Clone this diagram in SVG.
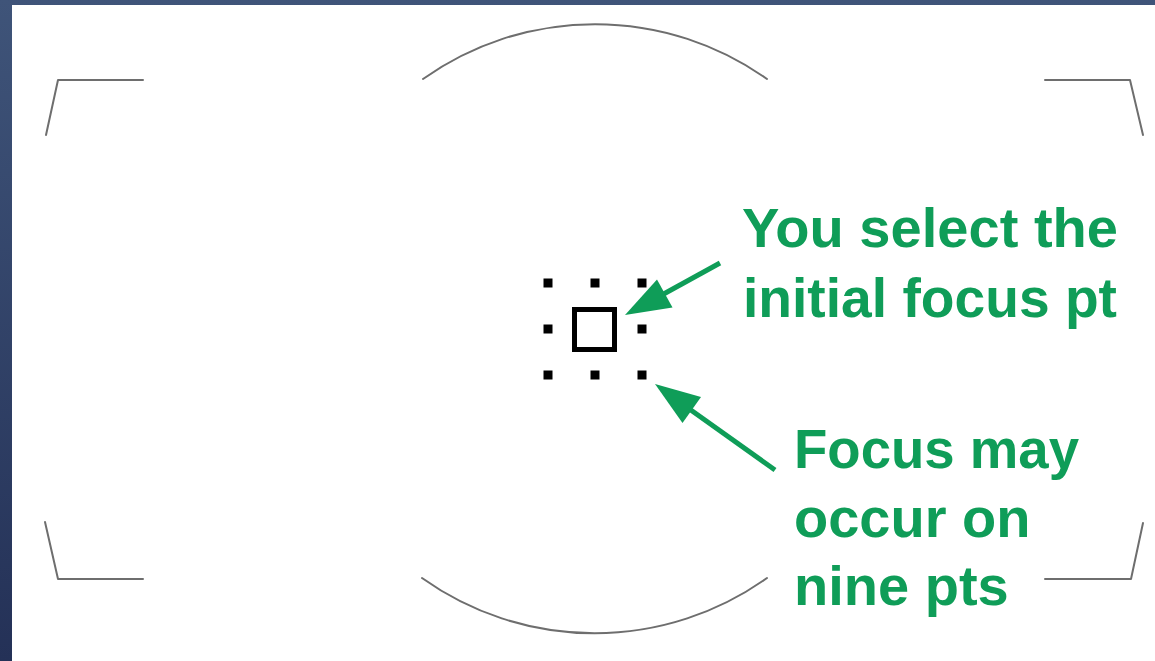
<svg xmlns="http://www.w3.org/2000/svg" width="1155" height="661" viewBox="0 0 1155 661">
  <defs>
    <linearGradient id="bg" x1="0" y1="0" x2="0" y2="1">
      <stop offset="0" stop-color="#3f5479"/>
      <stop offset="1" stop-color="#243157"/>
    </linearGradient>
    <style>
      .frame { fill: none; stroke: #6e6e6e; stroke-width: 2; stroke-linecap: round; stroke-linejoin: round; }
      .dot { fill: #000; }
      .label { font-family: "Liberation Sans", Arial, sans-serif; font-weight: bold; font-size: 56px; fill: #0f9d58; }
      .shaft { stroke: #0f9d58; stroke-width: 5; fill: none; }
      .head { fill: #0f9d58; }
    </style>
  </defs>
  <rect x="0" y="0" width="1155" height="661" fill="url(#bg)"/>
  <rect x="12" y="5" width="1143" height="656" fill="#ffffff"/>

  <g id="viewfinder-frame">
    <path class="frame" d="M143 80 H58 L46 135"/>
    <path class="frame" d="M1045 80 H1130 L1143 135"/>
    <path class="frame" d="M45 522 L58 579 H143"/>
    <path class="frame" d="M1045 579 H1131 L1143 523"/>
    <path class="frame" d="M423 79 A297 297 0 0 1 767 79"/>
    <path class="frame" d="M422 578 A297 297 0 0 0 767 578"/>
  </g>

  <g id="focus-points">
    <rect class="dot" x="543.5" y="278.5" width="9" height="9"/>
    <rect class="dot" x="590.5" y="278.5" width="9" height="9"/>
    <rect class="dot" x="637.5" y="278.5" width="9" height="9"/>
    <rect class="dot" x="543.5" y="324.5" width="9" height="9"/>
    <rect class="dot" x="637.5" y="324.5" width="9" height="9"/>
    <rect class="dot" x="543.5" y="370.5" width="9" height="9"/>
    <rect class="dot" x="590.5" y="370.5" width="9" height="9"/>
    <rect class="dot" x="637.5" y="370.5" width="9" height="9"/>
  </g>
  <g id="initial-focus-point">
    <rect x="574.5" y="309.5" width="40" height="40" fill="none" stroke="#000" stroke-width="5"/>
  </g>

  <g id="connectors">
    <line class="shaft" x1="720" y1="263" x2="660" y2="296"/>
    <polygon class="head" points="625,315 672.5,307.5 657,279.5"/>
    <line class="shaft" x1="775" y1="470" x2="688" y2="408"/>
    <polygon class="head" points="655,384 682.5,423 701,397"/>
  </g>

  <g id="label-select">
    <text class="label" x="742" y="247" textLength="376" lengthAdjust="spacingAndGlyphs">You select the</text>
    <text class="label" x="743" y="317" textLength="374" lengthAdjust="spacingAndGlyphs">initial focus pt</text>
  </g>
  <g id="label-nine">
    <text class="label" x="794" y="468" textLength="285" lengthAdjust="spacingAndGlyphs">Focus may</text>
    <text class="label" x="794" y="537">occur on</text>
    <text class="label" x="794" y="605">nine pts</text>
  </g>
</svg>
